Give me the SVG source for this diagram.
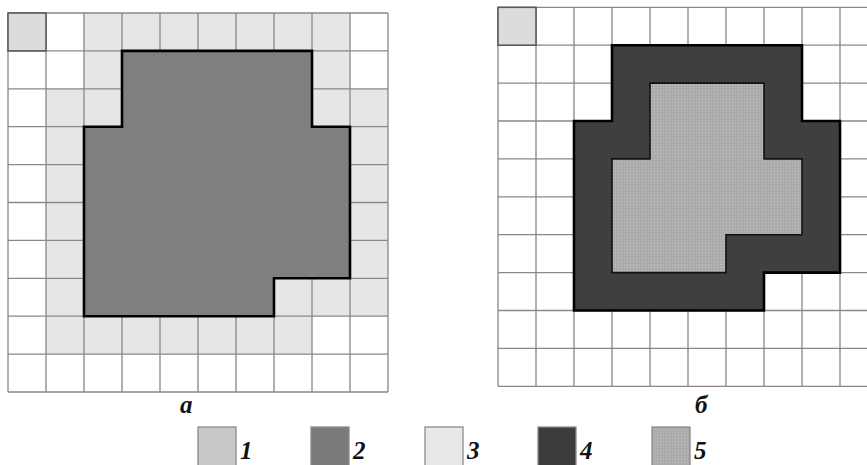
<svg xmlns="http://www.w3.org/2000/svg" width="867" height="465" viewBox="0 0 867 465">
<style>
.grid{fill:none;stroke:#8e8686;stroke-width:1.3}
.c1{fill:#dcdcdc;stroke:#5a5a5a;stroke-width:1.6}
.light{fill:#e6e6e6;stroke:none}
.dark2{fill:#7f7f7f;stroke:#000;stroke-width:2.6;stroke-linejoin:miter}
.dark4{fill:#3f3f3f;stroke:#000;stroke-width:2.6;stroke-linejoin:miter}
.dot5{fill:url(#stip);stroke:#111;stroke-width:1.6}
.lg{stroke:#8a8a8a;stroke-width:1.3}
.lbl{font-family:"Liberation Serif","DejaVu Serif",serif;font-weight:bold;font-style:italic;fill:#111}
</style>
<defs>
<pattern id="stip" width="3" height="3" patternUnits="userSpaceOnUse">
<rect width="3" height="3" fill="#ababab"/>
<rect width="1" height="1" fill="#c4c4c4"/>
</pattern>
</defs>
<rect width="867" height="465" fill="#fff"/>
<g id="panel-a">
<polygon class="light" points="84,13 350,13 350,88.8 388,88.8 388,316.2 312,316.2 312,354.1 46,354.1 46,88.8 84,88.8"/>
<path class="grid" d="M8,13V392M46,13V392M84,13V392M122,13V392M160,13V392M198,13V392M236,13V392M274,13V392M312,13V392M350,13V392M388,13V392M8,13H388M8,50.9H388M8,88.8H388M8,126.7H388M8,164.6H388M8,202.5H388M8,240.4H388M8,278.3H388M8,316.2H388M8,354.1H388M8,392H388"/>
<rect class="c1" x="8" y="13" width="38" height="37.9"/>
<polygon id="shape-a" class="dark2" points="122,50.9 312,50.9 312,126.7 350,126.7 350,278.3 274,278.3 274,316.2 84,316.2 84,126.7 122,126.7"/>
<text class="lbl" x="180" y="413" font-size="25">а</text>
</g>
<g id="panel-b">
<path class="grid" d="M498,7.3V386.3M536,7.3V386.3M574,7.3V386.3M612,7.3V386.3M650,7.3V386.3M688,7.3V386.3M726,7.3V386.3M764,7.3V386.3M802,7.3V386.3M840,7.3V386.3M878,7.3V386.3M498,7.3H878M498,45.2H878M498,83.1H878M498,121H878M498,158.9H878M498,196.8H878M498,234.7H878M498,272.6H878M498,310.5H878M498,348.4H878M498,386.3H878"/>
<rect class="c1" x="498" y="7.3" width="38" height="37.9"/>
<polygon id="shape-b-outer" class="dark4" points="612,45.2 802,45.2 802,121 840,121 840,272.6 764,272.6 764,310.5 574,310.5 574,121 612,121"/>
<polygon id="shape-b-inner" class="dot5" points="650,83.1 764,83.1 764,158.9 802,158.9 802,234.7 726,234.7 726,272.6 612,272.6 612,158.9 650,158.9"/>
<text class="lbl" x="695" y="413" font-size="25">б</text>
</g>
<g id="connectors"></g>
<g id="legend">
<g id="legend-1"><rect class="lg" x="198" y="427" width="38" height="40" fill="#c8c8c8"/><text class="lbl" x="240" y="459" font-size="25">1</text></g>
<g id="legend-2"><rect class="lg" x="311" y="427" width="38" height="40" fill="#7a7a7a"/><text class="lbl" x="353" y="459" font-size="25">2</text></g>
<g id="legend-3"><rect class="lg" x="425" y="427" width="38" height="40" fill="#e8e8e8"/><text class="lbl" x="467" y="459" font-size="25">3</text></g>
<g id="legend-4"><rect class="lg" x="538" y="427" width="38" height="40" fill="#3c3c3c"/><text class="lbl" x="580" y="459" font-size="25">4</text></g>
<g id="legend-5"><rect class="lg" x="652" y="427" width="38" height="40" fill="url(#stip)"/><text class="lbl" x="694" y="459" font-size="25">5</text></g>
</g>
</svg>
